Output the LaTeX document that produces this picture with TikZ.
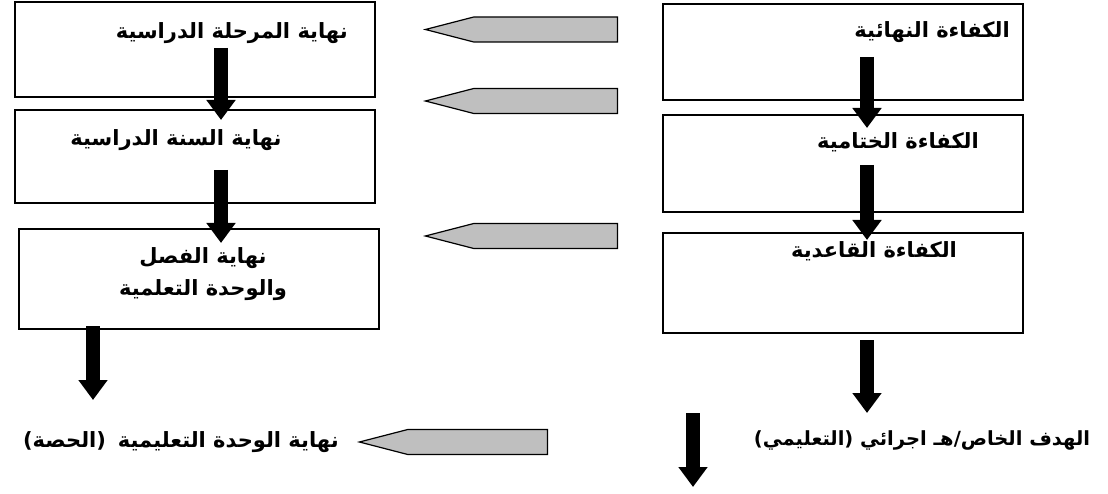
\documentclass[tikz,border=0pt]{standalone}
\usepackage{fontspec}
\newfontfamily\arabicfont[Script=Arabic]{DejaVu Sans}
\TeXXeTstate=1
\usetikzlibrary{positioning,arrows.meta,shapes.arrows}
\newcommand{\artxt}[1]{\arabicfont\bfseries\beginR #1\endR}

\begin{document}
\begin{tikzpicture}[x=1pt,y=-1pt,
		box/.style={draw,line width=1.5pt,minimum width=360pt,inner sep=0pt},
		lbl/.style={inner sep=0pt,font=\fontsize{21}{32}\selectfont},
		blk/.style={line width=14pt,-{Triangle[width=28pt,length=20pt]}},
		grey/.style={single arrow,draw,line width=1.2pt,fill=black!25,
			shape border rotate=180,single arrow head extend=0pt,
			single arrow tip angle=29,minimum width=25pt,inner sep=0pt,anchor=tip}
	]
	\useasboundingbox (0,0) rectangle (1108,494);
	% Left column
	\node[box,minimum height=95pt] (L1) at (195,49.5) {};
	\node[box,minimum height=93pt] (L2) at (195,156.5) {};
	\node[box,minimum height=100pt] (L3) at (199,279) {};
	\node[lbl,anchor=east] (tL1) at (348,33) {\artxt{نهاية المرحلة الدراسية}};
	\node[lbl] (tL2) at (176,140) {\artxt{نهاية السنة الدراسية}};
	\node[lbl,align=center] (tL3) at (203,274) {\artxt{نهاية الفصل}\\\artxt{والوحدة التعلمية}};
	\node[lbl,anchor=east] (tL4) at (339,442) {\artxt{نهاية الوحدة التعليمية\hspace{12pt}(الحصة)}};
	% Right column
	\node[box,minimum height=96pt] (R1) at (843,52) {};
	\node[box,minimum height=97pt] (R2) at (843,163.5) {};
	\node[box,minimum height=100pt] (R3) at (843,283) {};
	\node[lbl,anchor=east] (tR1) at (1010,32) {\artxt{الكفاءة النهائية}};
	\node[lbl] (tR2) at (898,142) {\artxt{الكفاءة الختامية}};
	\node[lbl] (tR3) at (874,251) {\artxt{الكفاءة القاعدية}};
	\node[lbl,font=\fontsize{19.5}{32}\selectfont] (tR4) at (922,440) {\artxt{الهدف الخاص/هـ اجرائي (التعليمي)}};
	% Grey arrows
	\node[grey,minimum height=192pt] (g1) at (423,29.5) {};
	\node[grey,minimum height=192pt] (g2) at (423,101) {};
	\node[grey,minimum height=192pt] (g3) at (423,236) {};
	\node[grey,minimum height=188pt] (g4) at (357,442) {};
	% Black arrows
	\foreach \n/\x/\a/\b in {d1/221/48/120,d2/221/170/243,d3/93/326/400,
			e1/867/57/128,e2/867/165/240,e3/867/340/413,e4/693/413/487}{
		\coordinate (\n top) at (\x,\a);
		\coordinate (\n tip) at (\x,\b);
		\draw[blk] (\n top) -- (\n tip);
	}
\end{tikzpicture}
\end{document}
